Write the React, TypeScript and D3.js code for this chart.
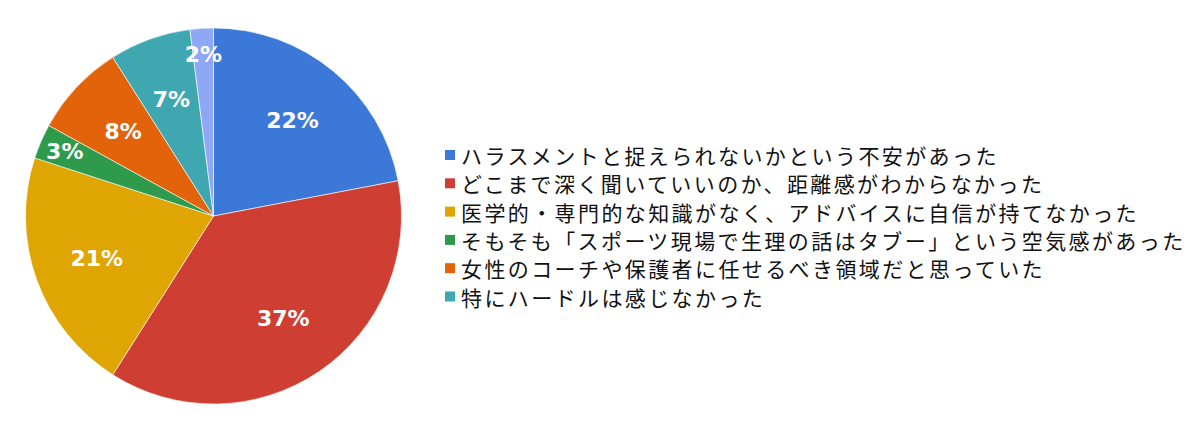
import * as d3 from 'd3'

const categories = [
  'ハラスメントと捉えられないかという不安があった',
  'どこまで深く聞いていいのか、距離感がわからなかった',
  '医学的・専門的な知識がなく、アドバイスに自信が持てなかった',
  'そもそも「スポーツ現場で生理の話はタブー」という空気感があった',
  '女性のコーチや保護者に任せるべき領域だと思っていた',
  '特にハードルは感じなかった',
  'その他',
]
const shares = [22, 37, 21, 3, 8, 7, 2]
const colors = ['#3c78d8', '#cf3e33', '#dfa503', '#2e9a4b', '#e26309', '#3fa7b0', '#8fa8f5']
const legendCount = 6

const width = 1200
const height = 423
const cx = 213.5
const cy = 216
const radius = 188
const labelSize = 22

type Slice = d3.PieArcDatum<number>

// push the label out from the centre until its box sits inside the wedge
function labelPos(d: Slice, text: string): [number, number] {
  const w = (text.length - 1) * labelSize * 0.7 + labelSize
  const h = labelSize * 0.75
  const mid = (d.startAngle + d.endAngle) / 2
  const fits = (r: number) => {
    const x = Math.sin(mid) * r
    const y = -Math.cos(mid) * r
    for (const [dx, dy] of [[-1, -1], [1, -1], [1, 1], [-1, 1]]) {
      const px = x + (dx * w) / 2
      const py = y + (dy * h) / 2
      let a = Math.atan2(px, -py)
      if (a < 0) a += Math.PI * 2
      if (a < d.startAngle || a > d.endAngle) return false
      if (Math.hypot(px, py) > radius - 3) return false
    }
    return true
  }
  let r = radius * 0.66
  while (r < radius * 0.86 && !fits(r)) r += 1
  return [Math.sin(mid) * r, -Math.cos(mid) * r]
}

export default function App() {
  const pie = d3.pie<number>().sort(null).value(d => d)
  const arcs = pie(shares)
  const arc = d3.arc<Slice>().innerRadius(0).outerRadius(radius)
  const total = d3.sum(shares)

  const rowY = d3.scaleLinear().domain([0, 1]).range([155, 183.3])

  return (
    <svg width={width} height={height} style={{ display: 'block', margin: -8, background: '#fff' }}>
      <g transform={`translate(${cx},${cy})`}>
        {arcs.map((d, i) => (
          <path key={i} d={arc(d) || ''} fill={colors[i]} stroke="#fff" strokeWidth={0.6} />
        ))}
        {arcs.map((d, i) => {
          const text = `${Math.round((d.data / total) * 100)}%`
          const [x, y] = labelPos(d, text)
          return (
            <text
              key={i}
              x={x}
              y={y}
              textAnchor="middle"
              dominantBaseline="central"
              fill="#fff"
              fontFamily="'DejaVu Sans', 'Noto Sans', sans-serif"
              fontWeight={700}
              fontSize={labelSize}
            >
              {text}
            </text>
          )
        })}
      </g>
      <g>
        {categories.slice(0, legendCount).map((c, i) => (
          <g key={c} transform={`translate(445,${rowY(i)})`}>
            <rect x={0} y={-5} width={10} height={10} fill={colors[i]} />
            <text
              x={16}
              y={0}
              dominantBaseline="central"
              fill="#111"
              fontFamily="'Noto Sans CJK JP', sans-serif"
              fontSize={21}
              letterSpacing={2.4}
            >
              {c}
            </text>
          </g>
        ))}
      </g>
    </svg>
  )
}
